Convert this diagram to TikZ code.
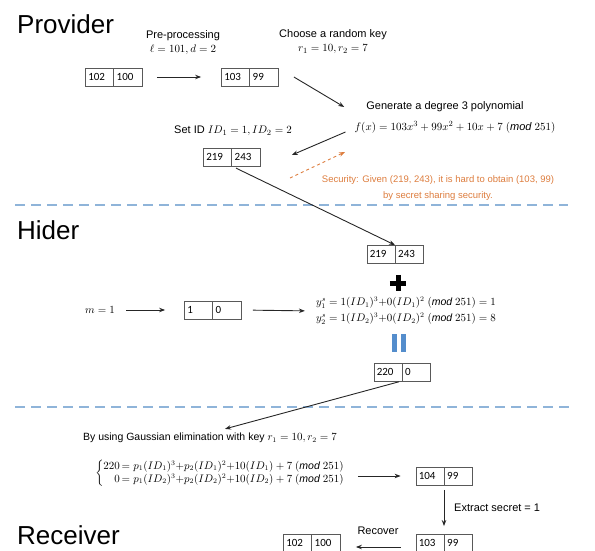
\documentclass[tikz,border=0pt]{standalone}
\usepackage{amsmath}
\usepackage{fontspec}
\setmainfont{Liberation Sans}
\newfontfamily\cellfont{Carlito}
\usetikzlibrary{shapes.multipart,arrows.meta,positioning,calc}
\definecolor{sepblue}{RGB}{143, 180, 217}
\definecolor{warnorange}{RGB}{221, 125, 62}
\definecolor{eqblue}{RGB}{84, 141, 204}
\newcommand{\cellval}[1]{\makebox[22pt][l]{\rule[-1.5pt]{0pt}{9.5pt}#1}}

\begin{document}
\begin{tikzpicture}[x=1pt, y=-1pt,
    pairbox/.style={rectangle split, rectangle split horizontal, rectangle split parts=2, draw=black!65, font=\cellfont\fontsize{11}{12}\selectfont, inner xsep=3pt, inner ysep=4pt},
    lbl/.style={font=\fontsize{11}{14}\selectfont, align=center, inner sep=1pt},
    title/.style={font=\fontsize{26}{30}\selectfont, anchor=west, inner sep=0pt},
    arrow/.style={line width=0.9pt, -{Stealth[length=6pt, width=4.5pt]}, color=black!85},
    sepline/.style={line width=1.2pt, color=sepblue, dash pattern=on 10pt off 6pt}
]
    \useasboundingbox (0,0) rectangle (595,551);

    % provider
    \node[title] (provider) at (17,24) {Provider};
    \node[lbl] (prelbl) at (183,43) {Pre-processing\\$\ell = 101, d = 2$};
    \node[pairbox] (pa) at (113.5,77) {\cellval{102} \nodepart{two} \cellval{100}};
    \node[pairbox] (pb) at (249.5,77) {\cellval{103} \nodepart{two} \cellval{99}};
    \node[lbl] (keylbl) at (333,42) {Choose a random key\\$r_1 = 10, r_2 = 7$};
    \node[lbl] (polylbl) at (445,107) {Generate a degree 3 polynomial};
    \node[lbl] (poly) at (455,127) {$f(x) = 103x^3 + 99x^2 + 10x + 7\ (\mathit{mod}\ 251)$};
    \node[lbl] (idlbl) at (233,131) {Set ID $ID_1 = 1, ID_2 = 2$};
    \node[pairbox] (pc) at (231.5,157) {\cellval{219} \nodepart{two} \cellval{243}};
    \node[lbl, text=warnorange, font=\fontsize{9.5}{16}\selectfont] (sec) at (438,188) {Security: Given (219, 243), it is hard to obtain (103, 99)\\by secret sharing security.};
    \coordinate (warnfrom) at (290,178);
    \coordinate (warnto) at (345,152);

    \draw[arrow, shorten <=15pt, shorten >=20pt] (pa.east) -- (pb.west);
    \draw[arrow] ([xshift=16pt]pb.east) -- ([xshift=-21pt]polylbl.west);
    \draw[arrow] ([shift={(-8,5)}]poly.west) -- ([shift={(32,-2)}]pc.east);
    \draw[arrow, dashed, color=warnorange] (warnfrom) -- (warnto);

    \draw[sepline] (15,205) -- (568,205);

    % hider
    \node[title] (hider) at (17,230) {Hider};
    \node[pairbox] (ha) at (395,254) {\cellval{219} \nodepart{two} \cellval{243}};
    \node[minimum size=16pt, inner sep=0pt] (plus) at (398,283) {};
    \draw[line width=5pt] (plus.north) -- (plus.south) (plus.west) -- (plus.east);
    \node[lbl] (mlbl) at (100,310) {$m = 1$};
    \node[pairbox] (ma) at (212.5,310) {\cellval{1} \nodepart{two} \cellval{0}};
    \node[lbl, align=left, font=\fontsize{10.5}{16}\selectfont] (ys) at (406,311) {$y_1^s = 1(ID_1)^3{+}0(ID_1)^2\ (\mathit{mod}\ 251) = 1$\\$y_2^s = 1(ID_2)^3{+}0(ID_2)^2\ (\mathit{mod}\ 251) = 8$};
    \node[minimum width=13pt, minimum height=18pt, inner sep=0pt] (equal) at (399,343) {};
    \fill[eqblue] (equal.north west) rectangle ([xshift=5pt]equal.south west);
    \fill[eqblue] ([xshift=-5pt]equal.north east) rectangle (equal.south east);
    \node[pairbox] (hb) at (402,372) {\cellval{220} \nodepart{two} \cellval{0}};

    \draw[arrow, shorten <=5pt] (pc.south) -- (ha.north);
    \draw[arrow, shorten <=10pt, shorten >=19pt] (mlbl.east) -- (ma.west);
    \draw[arrow, shorten <=12pt, shorten >=10pt] (ma.east) -- (ys.west);

    \draw[sepline] (15,407) -- (570,407);

    % receiver
    \node[lbl, font=\fontsize{10.5}{13}\selectfont] (gauss) at (210,438) {By using Gaussian elimination with key $r_1 = 10, r_2 = 7$};
    \node[lbl, font=\fontsize{10.5}{13}\selectfont] (sys) at (220,473) {$\left\{\begin{array}{@{}r@{\,}l@{}}220 &= p_1(ID_1)^3{+}p_2(ID_1)^2{+}10(ID_1) + 7\ (\mathit{mod}\ 251)\\ 0 &= p_1(ID_2)^3{+}p_2(ID_2)^2{+}10(ID_2) + 7\ (\mathit{mod}\ 251)\end{array}\right.$};
    \node[pairbox] (hc) at (444,476) {\cellval{104} \nodepart{two} \cellval{99}};
    \node[lbl, anchor=west] (extract) at (453,508) {Extract secret = 1};
    \node[title] (receiver) at (17,535) {Receiver};
    \node[pairbox] (rc) at (444,543) {\cellval{103} \nodepart{two} \cellval{99}};
    \node[pairbox] (rd) at (311.5,543) {\cellval{102} \nodepart{two} \cellval{100}};
    \node[lbl] (recover) at (378,531) {Recover};

    \draw[arrow, shorten <=3pt] (hb.south) -- ([shift={(15,-3)}]gauss.north);
    \draw[arrow] ([xshift=12pt]sys.east |- hc.west) -- ([xshift=-15pt]hc.west);
    \draw[arrow, shorten <=5pt, shorten >=8pt] (hc.south) -- (rc.north);
    \draw[arrow, shorten <=15pt, shorten >=16pt] ([yshift=-4pt]rc.west) -- ([yshift=-4pt]rd.east);
\end{tikzpicture}
\end{document}
